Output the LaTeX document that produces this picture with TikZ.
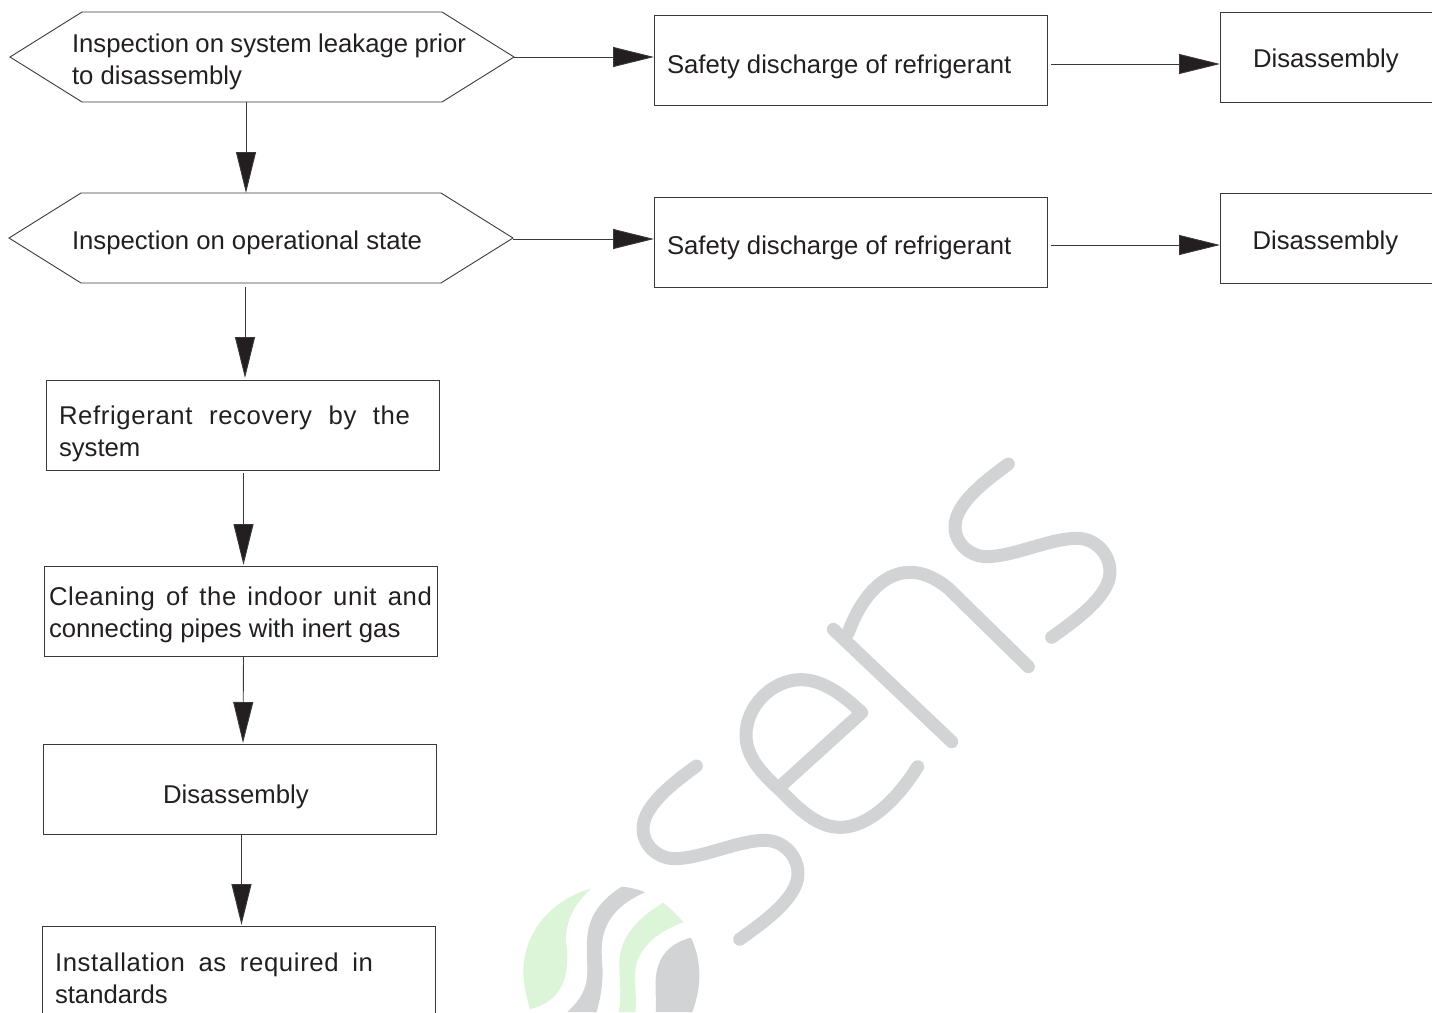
\documentclass[tikz,border=0pt]{standalone}
\usepackage{fontspec}
\setmainfont{Liberation Sans}
\newfontfamily\spaced[LetterSpace=2.5]{Liberation Sans}
\usetikzlibrary{shapes.symbols,arrows.meta}
\definecolor{ink}{HTML}{231F20}
\definecolor{rule}{HTML}{3A3839}
\definecolor{wmgray}{HTML}{D1D3D4}
\definecolor{wmgreen}{HTML}{DCF5D8}
\tikzset{
  boxnode/.style={draw=rule,line width=0.9pt,rectangle,inner sep=0pt,outer sep=0pt,minimum width=#1,minimum height=90pt},
  hexnode/.style={draw=rule,line width=0.9pt,shape=signal,signal to=west and east,signal from=nowhere,signal pointer angle=64,inner sep=0pt,outer sep=0pt,minimum width=504pt,minimum height=90pt},
  txt/.style={text=ink,font=\fontsize{25.7pt}{32pt}\selectfont,inner sep=0pt,outer sep=0pt,anchor=base west,align=left},
  arr/.style={draw=rule,line width=0.9pt,-{Triangle[length=41pt,width=20pt,fill=ink]}},
  wmstroke/.style={draw=wmgray,line width=13pt,line cap=round,line join=round},
}
\newcommand{\spread}[2]{\hbox to #1{#2}}
\begin{document}
\begin{tikzpicture}[x=1pt,y=-1pt]
\useasboundingbox (0,0) rectangle (1432,1012);
% watermark: letters
\begin{scope}[shift={(620,440)},scale=1/3]
  \foreach \dx/\dy in {0/0,-936/906}{
    \draw[wmstroke,shift={(\dx,\dy)}] (1165,72) .. controls (1100,120) and (1005,190) .. (1005,260) .. controls (1005,310) and (1050,350) .. (1100,350) .. controls (1180,350) and (1290,295) .. (1370,295) .. controls (1430,295) and (1470,345) .. (1470,395) .. controls (1470,470) and (1360,545) .. (1295,592);
  }
  \draw[wmstroke] (640,568) -- (995,905);
  \draw[wmstroke] (685,578) .. controls (720,480) and (785,397) .. (870,397) .. controls (920,397) and (960,425) .. (985,445) -- (1225,680);
  \draw[wmstroke] (480,1040) -- (725,818) .. controls (660,755) and (600,719) .. (543,719) .. controls (455,719) and (378,800) .. (378,885) .. controls (378,950) and (425,1000) .. (480,1050) .. controls (535,1105) and (590,1162) .. (660,1162) .. controls (760,1162) and (850,1050) .. (893,980);
\end{scope}
% watermark: logo
\begin{scope}[shift={(480,860)},scale=1/3]
  \fill[wmgreen] (335,85) .. controls (210,120) and (130,220) .. (130,335) .. controls (130,375) and (140,415) .. (150,448) .. controls (215,430) and (262,390) .. (262,290) .. controls (262,260) and (255,250) .. (260,210) .. controls (268,160) and (295,120) .. (335,85) -- cycle;
  \fill[wmgray] (425,80) .. controls (450,82) and (475,88) .. (495,97) .. controls (420,130) and (365,180) .. (365,270) .. controls (365,310) and (370,330) .. (367,360) .. controls (365,395) and (358,425) .. (350,456) -- (262,456) .. controls (300,420) and (322,390) .. (322,330) .. controls (322,300) and (318,270) .. (322,230) .. controls (328,160) and (370,115) .. (425,80) -- cycle;
  \fill[wmgreen] (550,128) .. controls (572,145) and (592,165) .. (610,187) .. controls (530,215) and (465,270) .. (465,345) .. controls (465,390) and (470,420) .. (466,456) -- (415,456) .. controls (425,420) and (420,380) .. (418,320) .. controls (415,235) and (470,175) .. (550,128) -- cycle;
  \fill[wmgray] (633,233) .. controls (650,270) and (658,305) .. (658,345) .. controls (658,385) and (650,420) .. (637,456) -- (527,456) .. controls (530,420) and (525,395) .. (527,360) .. controls (530,295) and (565,250) .. (633,233) -- cycle;
\end{scope}
% nodes
\node[hexnode] (H1) at (262,57) {};
\node[hexnode] (H2) at (261,238) {};
\node[boxnode=393pt] (S1) at (850.5,60) {};
\node[boxnode=393pt] (S2) at (850.5,242) {};
\node[boxnode=224pt] (D1) at (1332,57) {};
\node[boxnode=224pt] (D2) at (1332,238) {};
\node[boxnode=393pt] (R) at (242.5,425) {};
\node[boxnode=393pt] (C) at (240.5,611) {};
\node[boxnode=393pt] (M) at (239.5,789) {};
\node[boxnode=393pt,minimum height=94pt] (I) at (238.5,973) {};
% texts
\node[txt] (tH1) at (72,84) {\spread{394pt}{Inspection\hfill on\hfill system\hfill leakage\hfill prior}\\to disassembly};
\node[txt] (tH2) at (72,249) {Inspection on operational state};
\node[txt] (tS1) at (667,73) {Safety discharge of refrigerant};
\node[txt] (tS2) at (667,254) {Safety discharge of refrigerant};
\node[txt] (tD1) at (1253,67) {Disassembly};
\node[txt] (tD2) at (1252.5,249) {Disassembly};
\node[txt] (tR) at (59,456) {\spread{351pt}{\spaced Refrigerant\hfill recovery\hfill by\hfill the}\\system};
\node[txt] (tC) at (49,637) {\spread{383pt}{\spaced Cleaning\hfill of\hfill the\hfill indoor\hfill unit\hfill and}\\connecting pipes with inert gas};
\node[txt] (tM) at (163,803) {Disassembly};
\node[txt] (tI) at (55,1003) {\spread{318pt}{\spaced Installation\hfill as\hfill required\hfill in}\\standards};
% connectors
\draw[arr] (H1.east) -- ([yshift=3pt]S1.west);
\draw[arr] ([xshift=4pt,yshift=-4pt]S1.east) -- ([yshift=-7pt]D1.west);
\draw[arr] ([yshift=-1pt]H2.east) -- ([yshift=3pt]S2.west);
\draw[arr] ([xshift=4pt,yshift=-3pt]S2.east) -- ([yshift=-7pt]D2.west);
\draw[arr] ([xshift=-16pt]H1.south) -- ([xshift=-15pt]H2.north);
\draw[arr] ([xshift=-16pt,yshift=-4pt]H2.south) -- ([xshift=2.5pt,yshift=2pt]R.north);
\draw[arr] ([xshift=1pt,yshift=-3pt]R.south) -- ([xshift=3pt,yshift=1pt]C.north);
\draw[arr] ([xshift=3pt]C.south) -- ([xshift=3.5pt,yshift=1pt]M.north);
\draw[arr] ([xshift=2pt]M.south) -- ([xshift=3pt,yshift=1pt]I.north);
\end{tikzpicture}
\end{document}
